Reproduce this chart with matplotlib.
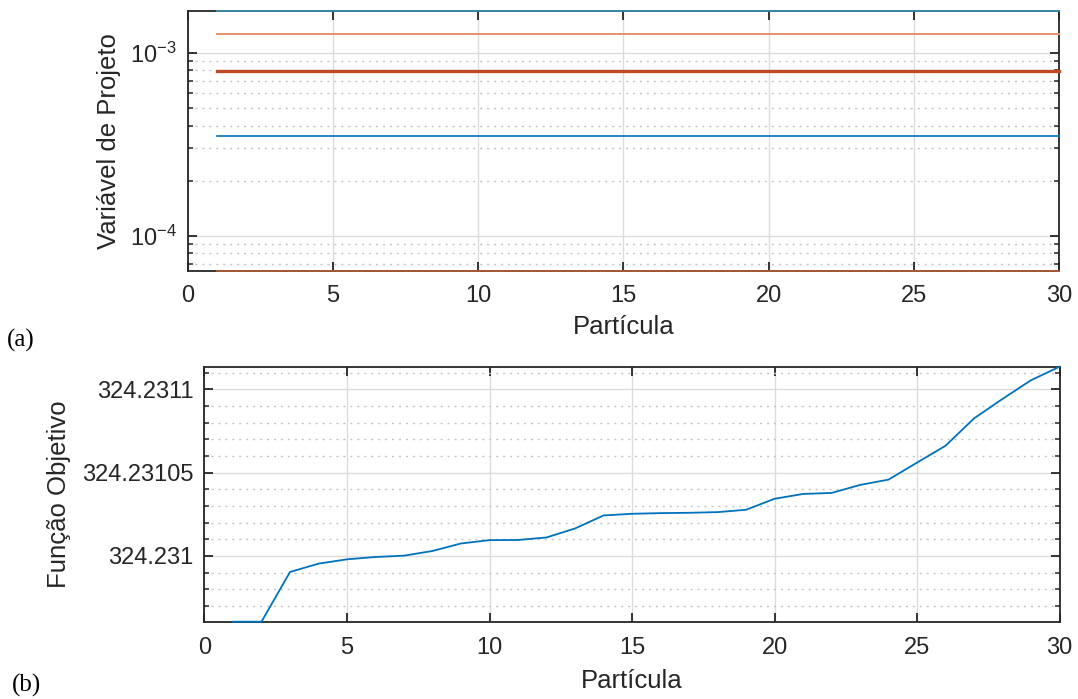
import numpy as np
import matplotlib
matplotlib.use('Agg')
import matplotlib.pyplot as plt
from matplotlib.ticker import FixedLocator, LogLocator, NullFormatter, NullLocator

plt.rcParams['font.family'] = ['Liberation Sans', 'DejaVu Sans']
plt.rcParams['mathtext.fontset'] = 'custom'
plt.rcParams['mathtext.rm'] = 'Liberation Sans'
plt.rcParams['mathtext.it'] = 'Liberation Sans'

# data
particula = list(range(1, 31))

# (a) design variables (constant over the particles)
var_values = [1.69e-3, 1.27e-3, 7.94e-4, 3.49e-4, 6.44e-5]
var_colors = ['#3A88A4', '#E8916A', '#C04A26', '#0072BD', '#A65A35']
var_widths = [1.4, 1.4, 2.4, 1.2, 1.4]

# (b) objective function, offset from 324.231 in units of 1e-6
fobj_base = 324.231
fobj_offset = [-39.4, -39.4, -9.6, -4.6, -2.0, -0.6, 0.2, 3.0, 7.5, 9.5,
               9.6, 11.1, 16.5, 24.3, 25.3, 25.7, 25.9, 26.3, 27.7, 34.3,
               37.2, 37.8, 42.6, 45.8, 56.0, 66.1, 82.5, 94.2, 105.4, 113.5]
fobj = [fobj_base + v * 1e-6 for v in fobj_offset]

x_ticks = [0, 5, 10, 15, 20, 25, 30]
y_ticks_b = [324.231, 324.23105, 324.2311]
y_labels_b = ['324.231', '324.23105', '324.2311']

spine_col = '#262626'
tick_fs = 17
label_fs = 18.5


def style_axes(ax):
    for s in ax.spines.values():
        s.set_color(spine_col)
        s.set_linewidth(1.3)
    ax.tick_params(which='both', direction='in', top=True, right=True,
                   color=spine_col, labelsize=tick_fs, labelcolor='#262626')
    ax.tick_params(which='major', length=6.5, width=1.3)
    ax.tick_params(which='minor', length=3.5, width=1.1)
    ax.tick_params(axis='x', pad=10)
    ax.tick_params(axis='y', pad=8)
    ax.grid(which='major', color='#DCDCDC', linewidth=1.0)
    ax.grid(which='minor', axis='y', color='#C4C4C4', linewidth=1.0,
            linestyle=(0, (1.5, 3.5)))
    ax.set_axisbelow(True)


fig = plt.figure(figsize=(10.78, 6.99), dpi=100)

# (a)
ax1 = fig.add_axes([0.1741, 0.6127, 0.8083, 0.3716])
for v, c, w in zip(var_values, var_colors, var_widths):
    ax1.plot(particula, [v] * len(particula), color=c, linewidth=w,
             clip_on=False, zorder=3)
ax1.set_yscale('log')
ax1.set_xlim(0, 30)
ax1.set_ylim(min(var_values), max(var_values))
ax1.set_xticks(x_ticks)
ax1.xaxis.set_minor_locator(NullLocator())
ax1.yaxis.set_major_locator(FixedLocator([1e-4, 1e-3]))
ax1.set_yticklabels([r'$10^{-4}$', r'$10^{-3}$'])
ax1.yaxis.set_minor_locator(LogLocator(base=10, subs=np.arange(2, 10)))
ax1.yaxis.set_minor_formatter(NullFormatter())
style_axes(ax1)
ax1.set_xlabel('Partícula', fontsize=label_fs, color='#262626', labelpad=6)
ax1.set_ylabel('Variável de Projeto', fontsize=label_fs, color='#262626',
               labelpad=6)

# (b)
ax2 = fig.add_axes([0.1897, 0.1106, 0.7932, 0.3648])
ax2.plot(particula, fobj, color='#0072BD', linewidth=1.3, clip_on=False,
         zorder=3)
ax2.set_xlim(0, 30)
ax2.set_ylim(min(fobj), max(fobj))
ax2.set_xticks(x_ticks)
ax2.xaxis.set_minor_locator(NullLocator())
ax2.yaxis.set_major_locator(FixedLocator(y_ticks_b))
ax2.set_yticklabels(y_labels_b)
minor_b = [fobj_base + k * 1e-5 for k in range(-4, 12) if k % 5 != 0]
ax2.yaxis.set_minor_locator(FixedLocator(minor_b))
style_axes(ax2)
ax2.tick_params(axis='x', pad=11)
ax2.set_xlabel('Partícula', fontsize=label_fs, color='#262626', labelpad=7)
ax2.set_ylabel('Função Objetivo', fontsize=label_fs, color='#262626',
               labelpad=8)

fig.text(0.0065, 0.513, '(a)', family='Liberation Serif', fontsize=18,
         va='center', ha='left')
fig.text(0.011, 0.02, '(b)', family='Liberation Serif', fontsize=18,
         va='center', ha='left')

fig.savefig('out.png', dpi=100)
